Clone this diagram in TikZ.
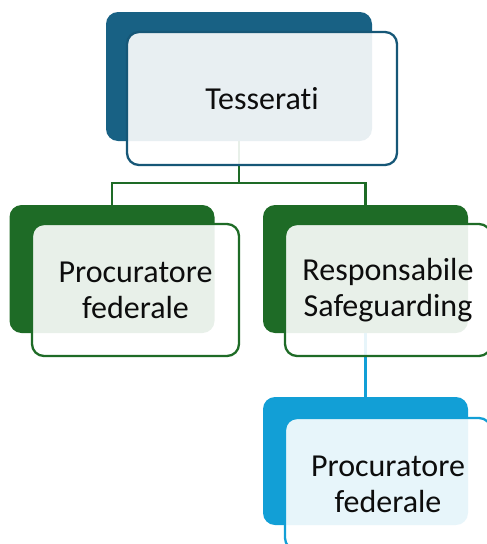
\documentclass[tikz,border=0pt]{standalone}
\usepackage{fontspec}
\setmainfont[Ligatures=CommonOff]{Carlito}
\definecolor{bluscuro}{HTML}{186184}
\definecolor{verde}{HTML}{1E6B26}
\definecolor{azzurro}{HTML}{129FD6}
\tikzset{
  retro/.style={rounded corners=12pt, inner sep=0pt, outer sep=0pt,
    minimum width=205pt, minimum height=128pt},
  fronte/.style={draw=#1, line width=2.3pt, fill=white, fill opacity=0.9,
    text opacity=1, rounded corners=12pt, inner sep=0pt, outer sep=0pt,
    minimum width=206pt, minimum height=132pt, align=center,
    font=\fontsize{32}{36}\selectfont, text=black!95},
  linea/.style={line width=2.3pt, draw=#1}
}
\begin{document}
\begin{tikzpicture}[x=1pt, y=-1pt]
    \useasboundingbox (0,0) rectangle (487,544);

    % riquadri di sfondo
    \node[retro, fill=bluscuro, minimum width=266pt, minimum height=129pt] (tessBack) at (239,76.5) {};
    \node[retro, fill=verde] (procBack) at (112,269) {};
    \node[retro, fill=verde] (respBack) at (365.5,269) {};
    \node[retro, fill=azzurro] (subBack) at (365.5,461) {};

    % collegamenti
    \coordinate (snodo) at (239,183);
    \draw[linea=verde] (tessBack.south) -- (snodo);
    \draw[linea=verde] (procBack.north) |- (snodo) -| (respBack.north);
    \draw[linea=azzurro] (respBack.south) -- (subBack.north);

    % riquadri con il testo
    \node[fronte=bluscuro!90!black, minimum width=270pt, minimum height=133pt] (tess) at (262,98.5) {Tesserati};
    \node[fronte=verde, minimum width=207pt] (proc) at (135.5,290) {Procuratore\\federale};
    \node[fronte=verde] (resp) at (388,290) {Responsabile\\Safeguarding};
    \node[fronte=azzurro] (sub) at (388,484) {Procuratore\\federale};
\end{tikzpicture}
\end{document}
